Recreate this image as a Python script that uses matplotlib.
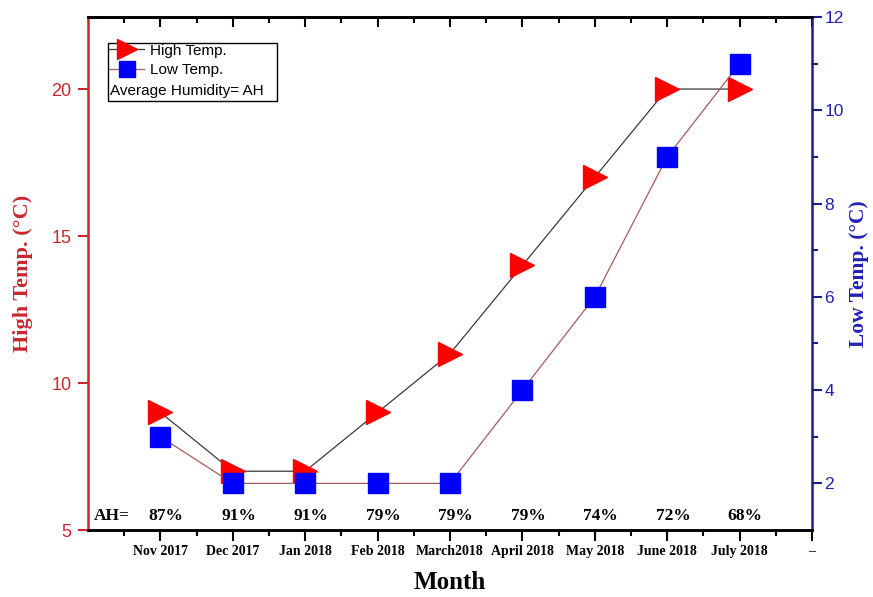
import numpy as np
import matplotlib.pyplot as plt
from matplotlib.lines import Line2D
from matplotlib.patches import Rectangle
import matplotlib.transforms as mtransforms

# data
months = ['Nov 2017', 'Dec 2017', 'Jan 2018', 'Feb 2018', 'March2018',
          'April 2018', 'May 2018', 'June 2018', 'July 2018']
high_temp = [9, 7, 7, 9, 11, 14, 17, 20, 20]
low_temp = [3, 2, 2, 2, 2, 4, 6, 9, 11]
humidity = ['87%', '91%', '91%', '79%', '79%', '79%', '74%', '72%', '68%']

red_axis = '#c8282d'
blue_axis = '#1c1c8c'
serif = 'Liberation Serif'
sans = 'Liberation Sans'

fig = plt.figure(figsize=(8.73, 5.97), dpi=100)
ax = fig.add_axes([0.1008, 0.1122, 0.8293, 0.8593])
ax2 = ax.twinx()

x = np.arange(1, len(months) + 1)
ax.plot(x, high_temp, color='#3a3a3a', lw=0.9, marker='>', ms=17,
        mfc='#ff0000', mec='#ff0000', zorder=3)
ax2.plot(x, low_temp, color='#a85a5a', lw=0.9, marker='s', ms=14.5,
         mfc='#0000ff', mec='#0000ff', zorder=3)

ax.set_xlim(0, 10)
ax.set_ylim(5, 22.45)
ax2.set_ylim(1, 12)

# x axis
ax.set_xticks(np.arange(1, 11))
ax.set_xticklabels(months + ['–'], fontfamily=serif, fontweight='bold', fontsize=10)
ax.set_xticks(np.arange(0.5, 10, 1), minor=True)
ax.tick_params(axis='x', which='major', direction='out', length=8, width=1.5, pad=3)
ax.tick_params(axis='x', which='minor', direction='out', length=4.5, width=1.5)
ax.set_xlabel('Month', fontfamily=serif, fontweight='bold', fontsize=18, labelpad=9)

top = ax.secondary_xaxis('top')
top.set_xticks(np.arange(1, 11))
top.set_xticks(np.arange(0.5, 10, 1), minor=True)
top.tick_params(axis='x', which='major', direction='in', length=7, width=1.5, labeltop=False)
top.tick_params(axis='x', which='minor', direction='in', length=4, width=1.5)
top.spines['top'].set_linewidth(1.8)

# left axis
ax.set_yticks([5, 10, 15, 20])
ax.tick_params(axis='y', direction='out', length=7, width=1.5, colors=red_axis,
               labelsize=13, pad=5)
for t in ax.get_yticklabels():
    t.set_fontfamily(sans)
ax.set_ylabel('High Temp. (°C)', color=red_axis, fontfamily=serif,
              fontweight='bold', fontsize=16, labelpad=13)

# right axis
ax2.set_yticks(np.arange(2, 13, 2))
ax2.set_yticks(np.arange(3, 12, 2), minor=True)
ax2.tick_params(axis='y', which='major', direction='out', length=7, width=1.5,
                colors=blue_axis, labelsize=12.5, pad=2)
ax2.tick_params(axis='y', which='minor', direction='out', length=4, width=1.5,
                colors=blue_axis)
for t in ax2.get_yticklabels():
    t.set_fontfamily(sans)
    t.set_color('#2020b8')
ax2.set_ylabel('Low Temp. (°C)', color='#2020b8', fontfamily=serif,
               fontweight='bold', fontsize=15.5, labelpad=4)

ax.spines['left'].set_color(red_axis)
ax.spines['right'].set_visible(False)
ax2.spines['left'].set_visible(False)
ax2.spines['right'].set_color(blue_axis)
for a in (ax, ax2):
    for s in a.spines.values():
        s.set_linewidth(1.8)

# humidity row
trans = mtransforms.blended_transform_factory(ax.transData, ax.transAxes)
ax.text(0.33, 0.012, 'AH=', transform=trans, ha='center', va='bottom',
        fontfamily=serif, fontweight='bold', fontsize=12.5)
for xi, h in zip(x, humidity):
    ax.text(xi + 0.08, 0.012, h, transform=trans, ha='center', va='bottom',
            fontfamily=serif, fontweight='bold', fontsize=12.5)

# legend box
handles = [Line2D([], [], color='#3a3a3a', lw=0.9, marker='>', ms=15,
                  mfc='#ff0000', mec='#ff0000'),
           Line2D([], [], color='#a85a5a', lw=0.9, marker='s', ms=11,
                  mfc='#0000ff', mec='#0000ff')]
ax2.legend(handles, ['High Temp.', 'Low Temp.'], loc='upper left',
           bbox_to_anchor=(0.027, 0.951), frameon=False, borderaxespad=0,
           borderpad=0.1, handlelength=2.3, handletextpad=0.4, labelspacing=0.35,
           prop={'family': sans, 'size': 11})
ax2.text(0.031, 0.843, 'Average Humidity= AH', transform=ax2.transAxes,
         fontfamily=sans, fontsize=11, va='bottom')
ax2.add_patch(Rectangle((0.0276, 0.836), 0.2334, 0.113, transform=ax2.transAxes,
                        fill=False, ec='black', lw=1))

fig.savefig('out.png', dpi=100)
